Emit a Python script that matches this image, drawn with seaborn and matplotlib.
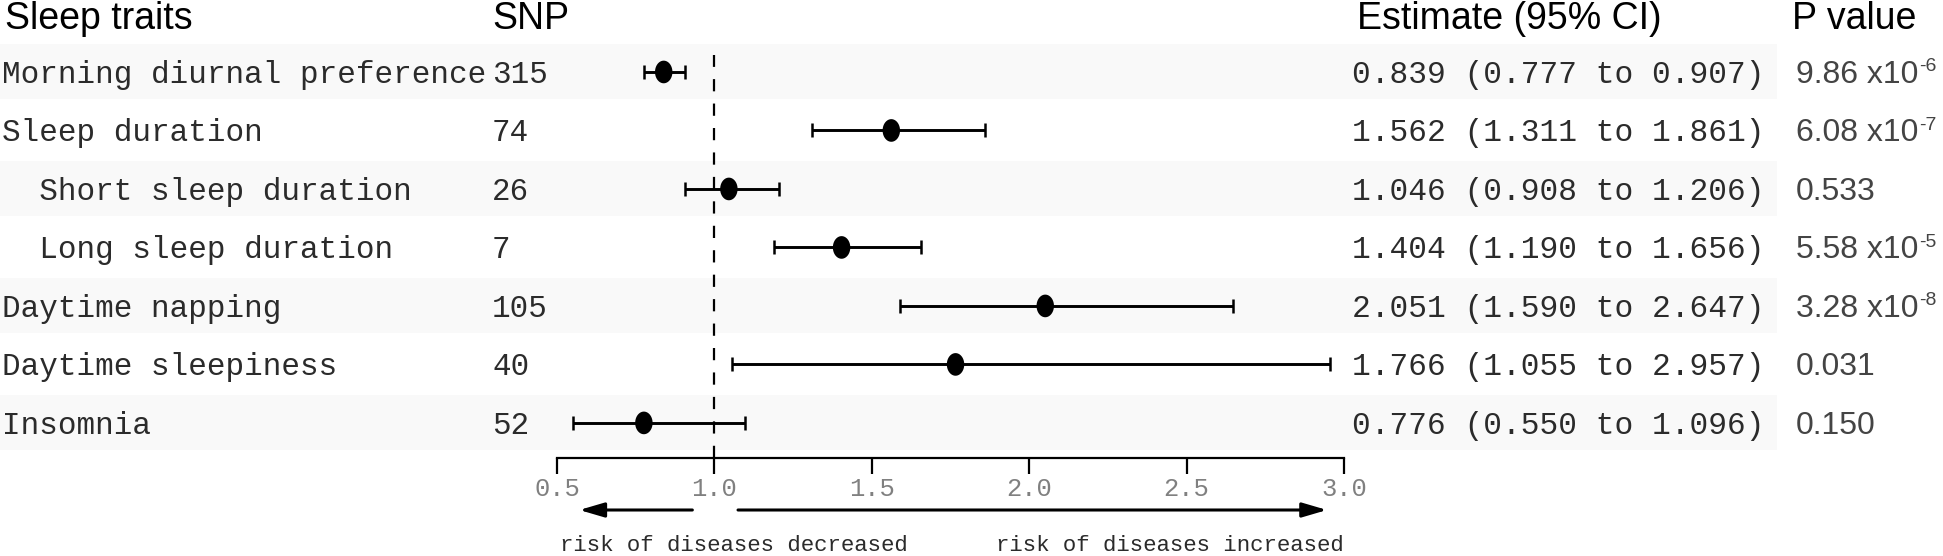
import matplotlib
matplotlib.use("Agg")
import matplotlib.pyplot as plt
import matplotlib.transforms as mtransforms
from matplotlib.path import Path
from matplotlib.patches import Rectangle
import numpy as np
import pandas as pd
import seaborn as sns

# ---------------- data ----------------
traits = ["Morning diurnal preference", "Sleep duration", "  Short sleep duration",
          "  Long sleep duration", "Daytime napping", "Daytime sleepiness", "Insomnia"]
snp = [315, 74, 26, 7, 105, 40, 52]
estimate = [0.839, 1.562, 1.046, 1.404, 2.051, 1.766, 0.776]
ci_low = [0.777, 1.311, 0.908, 1.190, 1.590, 1.055, 0.550]
ci_high = [0.907, 1.861, 1.206, 1.656, 2.647, 2.957, 1.096]
p_main = ["9.86 x10", "6.08 x10", "0.533", "5.58 x10", "3.28 x10", "0.031", "0.150"]
p_exp = ["-6", "-7", "", "-5", "-8", "", ""]
x_ticks = [0.5, 1.0, 1.5, 2.0, 2.5, 3.0]
headers = ["Sleep traits", "SNP", "Estimate (95% CI)", "P value"]

df = pd.DataFrame({"trait": traits, "snp": snp, "est": estimate,
                   "lo": ci_low, "hi": ci_high, "p": p_main, "pexp": p_exp})
df["row"] = np.arange(len(df))

# ---------------- style ----------------
sns.set_style("white")
plt.rcParams["font.family"] = ["Liberation Mono", "DejaVu Sans"]

W, H, DPI = 1943, 556, 100
fig = plt.figure(figsize=(W / DPI, H / DPI), dpi=DPI)
fig.patch.set_facecolor("white")

ax_left, ax_right = 557, 1344
ax_top_px, ax_bot_px = 39.8, 458
ax = fig.add_axes([ax_left / W, (H - ax_bot_px) / H,
                   (ax_right - ax_left) / W, (ax_bot_px - ax_top_px) / H])
ax.set_facecolor("none")
ylim = (6.6, -0.55)

# row bands
band_tr = mtransforms.blended_transform_factory(fig.transFigure, ax.transData)
for r in df["row"]:
    if r % 2 == 0:
        ax.add_patch(Rectangle((0, r - 0.47), 1777 / W, 0.94, transform=band_tr,
                               facecolor="#f9f9f9", edgecolor="none",
                               zorder=0, clip_on=False))

# reference line
ref_top = -0.29
ax.axvline(1.0, ymin=0, ymax=(ylim[0] - ref_top) / (ylim[0] - ylim[1]),
           color="black", lw=1.6, linestyle=(0, (5.5, 5.5)), zorder=1)

# CIs
ax.errorbar(df["est"], df["row"],
            xerr=[df["est"] - df["lo"], df["hi"] - df["est"]],
            fmt="none", ecolor="black", elinewidth=2.1, capsize=4.8,
            capthick=1.8, zorder=2, clip_on=False)

# point estimates (ellipse marker)
t = np.linspace(0, 2 * np.pi, 60)
ell = Path(np.column_stack([0.77 * np.cos(t), np.sin(t)]), closed=True)
sns.scatterplot(data=df, x="est", y="row", marker=ell, s=16.3 ** 2,
                color="black", edgecolor="none", linewidth=0, zorder=3,
                ax=ax, legend=False, clip_on=False)

ax.set_xlim(0.5, 3.0)
ax.set_ylim(*ylim)
ax.set_xlabel("")
ax.set_ylabel("")
ax.set_yticks([])
ax.set_xticks(x_ticks)
ax.set_xticklabels([f"{v:.1f}" for v in x_ticks], color="#808080", fontsize=18.4)
for s in ["left", "right", "top"]:
    ax.spines[s].set_visible(False)
ax.spines["bottom"].set_linewidth(1.6)
ax.spines["bottom"].set_color("black")
ax.tick_params(axis="x", direction="out", length=11.5, width=1.6, pad=2.5,
               colors="black", labelcolor="#808080", bottom=True)

# table text
txt_tr = mtransforms.offset_copy(band_tr, fig=fig, x=0, y=-11, units="dots")
renderer = fig.canvas.get_renderer()
for _, r in df.iterrows():
    fig.text(2 / W, r["row"], r["trait"], transform=txt_tr, fontsize=22.3,
             color="#2b2b2b", va="baseline", ha="left")
    fig.text(492 / W, r["row"], str(r["snp"]), transform=txt_tr, fontsize=22.3,
             color="#2b2b2b", va="baseline", ha="left")
    fig.text(1352 / W, r["row"],
             f"{r['est']:.3f} ({r['lo']:.3f} to {r['hi']:.3f})",
             transform=txt_tr, fontsize=22.5, color="#2b2b2b",
             va="baseline", ha="left")
    pt = fig.text(1796 / W, r["row"], r["p"], transform=txt_tr, fontsize=23,
                  family="Liberation Sans", color="#444444", va="baseline", ha="left")
    if r["pexp"]:
        bb = pt.get_window_extent(renderer=renderer)
        sup_tr = mtransforms.offset_copy(band_tr, fig=fig, x=0, y=-11 + 11.5,
                                         units="dots")
        fig.text((bb.x1 + 1) / W, r["row"], r["pexp"], transform=sup_tr,
                 fontsize=14, family="Liberation Sans", color="#444444",
                 va="baseline", ha="left")

# headers
hdr_x = [5, 492, 1357, 1792]
for hx, h in zip(hdr_x, headers):
    fig.text(hx / W, (H - 29) / H, h, fontsize=27, family="Liberation Sans",
             color="black", va="baseline", ha="left")

# direction arrows and labels
arrow_kw = dict(arrowstyle="-|>,head_length=0.75,head_width=0.22",
                lw=2.2, color="black", shrinkA=0, shrinkB=0, mutation_scale=20)
ax.annotate("", xy=(0.571, H - 510), xytext=(0.93, H - 510),
            xycoords=("data", "figure pixels"), textcoords=("data", "figure pixels"),
            arrowprops=arrow_kw, annotation_clip=False)
ax.annotate("", xy=(2.946, H - 510), xytext=(1.075, H - 510),
            xycoords=("data", "figure pixels"), textcoords=("data", "figure pixels"),
            arrowprops=arrow_kw, annotation_clip=False)
lab_tr = mtransforms.blended_transform_factory(ax.transData, fig.transFigure)
fig.text(0.508, (H - 551) / H, "risk of diseases decreased", transform=lab_tr,
         fontsize=16.1, color="#2b2b2b", ha="left", va="baseline")
fig.text(3.0, (H - 551) / H, "risk of diseases increased", transform=lab_tr,
         fontsize=16.1, color="#2b2b2b", ha="right", va="baseline")

fig.savefig("out.png", dpi=DPI, facecolor="white")
